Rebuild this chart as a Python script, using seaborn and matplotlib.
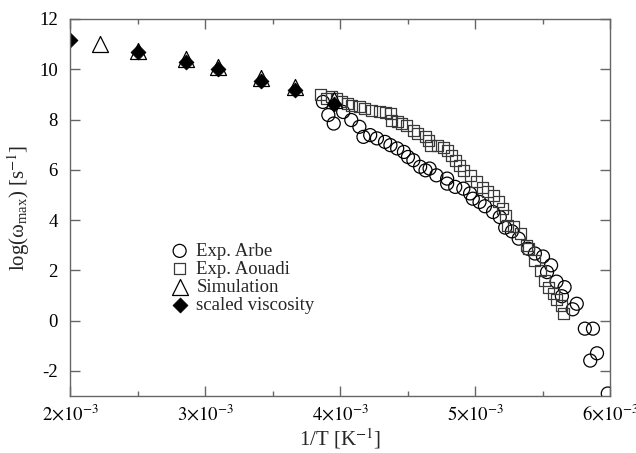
import numpy as np
import pandas as pd
import matplotlib
matplotlib.use("Agg")
import matplotlib.pyplot as plt
import seaborn as sns
from matplotlib.ticker import FixedLocator, MultipleLocator, FuncFormatter

# 1/T values in units of 1e-3 K^-1, log(omega_max) in log10(s^-1)
arbe_invT = [3.87, 3.91, 3.95, 4.02, 4.08, 4.14, 4.17, 4.22, 4.27, 4.33, 4.37, 4.42,
             4.47, 4.50, 4.54, 4.59, 4.63, 4.66, 4.71, 4.79, 4.79, 4.85, 4.91, 4.96,
             4.98, 5.03, 5.07, 5.13, 5.18, 5.22, 5.27, 5.32, 5.39, 5.44, 5.50, 5.56,
             5.53, 5.60, 5.66, 5.64, 5.75, 5.72, 5.81, 5.87, 5.85, 5.90, 5.98]
arbe_logw = [8.70, 8.18, 7.84, 8.30, 7.98, 7.71, 7.31, 7.38, 7.25, 7.11, 6.98, 6.85,
             6.71, 6.51, 6.38, 6.12, 5.98, 6.05, 5.78, 5.65, 5.45, 5.32, 5.25, 5.06,
             4.85, 4.72, 4.55, 4.32, 4.12, 3.70, 3.55, 3.26, 2.86, 2.67, 2.55, 2.20,
             1.93, 1.55, 1.33, 0.97, 0.67, 0.45, -0.32, -0.32, -1.59, -1.30, -2.90]

aouadi_invT = [3.85, 3.90, 3.93, 3.97, 4.01, 4.05, 4.08, 4.14, 4.18, 4.23, 4.29, 4.33,
               4.37, 4.38, 4.42, 4.45, 4.49, 4.54, 4.57, 4.63, 4.65, 4.67, 4.72, 4.76,
               4.79, 4.82, 4.85, 4.88, 4.91, 4.96, 5.01, 5.05, 5.09, 5.13, 5.17, 5.20,
               5.22, 5.24, 5.28, 5.33, 5.38, 5.39, 5.44, 5.48, 5.51, 5.54, 5.58, 5.60,
               5.64, 5.65]
aouadi_logw = [9.00, 8.84, 8.90, 8.84, 8.70, 8.64, 8.57, 8.50, 8.44, 8.37, 8.31, 8.26,
               8.22, 7.95, 7.91, 7.84, 7.78, 7.58, 7.45, 7.31, 7.16, 6.98, 6.98, 6.88,
               6.75, 6.58, 6.38, 6.18, 5.98, 5.78, 5.55, 5.30, 5.15, 4.99, 4.75, 4.45,
               4.19, 3.79, 3.75, 3.46, 3.00, 2.86, 2.40, 2.00, 1.60, 1.33, 1.07, 0.85,
               0.60, 0.30]

sim_invT = [2.222, 2.500, 2.857, 3.096, 3.413, 3.663, 3.953]
sim_logw = [11.00, 10.72, 10.40, 10.08, 9.67, 9.30, 8.78]

visc_invT = [2.000, 2.500, 2.857, 3.096, 3.413, 3.663, 3.953]
visc_logw = [11.16, 10.70, 10.30, 10.00, 9.54, 9.17, 8.60]

series_names = ["Exp. Arbe", "Exp. Aouadi", "Simulation", "scaled viscosity"]
x_ticks = [2e-3, 3e-3, 4e-3, 5e-3, 6e-3]
y_ticks = [-2, 0, 2, 4, 6, 8, 10, 12]

sns.set_theme(style="ticks")
plt.rcParams["font.family"] = ["Liberation Serif", "DejaVu Serif"]
plt.rcParams["mathtext.fontset"] = "stix"
plt.rcParams["axes.unicode_minus"] = False

def frame(invT, logw):
    return pd.DataFrame({"invT": np.asarray(invT) * 1e-3, "logw": logw})

fig = plt.figure(figsize=(6.36, 4.53), dpi=100)
ax = fig.add_axes([0.1108, 0.1258, 0.8491, 0.8323])

sns.scatterplot(data=frame(arbe_invT, arbe_logw), x="invT", y="logw", ax=ax,
                marker="o", s=(13 / 1.39) ** 2, facecolor="none",
                edgecolor="black", linewidth=0.9, label=series_names[0])
sns.scatterplot(data=frame(aouadi_invT, aouadi_logw), x="invT", y="logw", ax=ax,
                marker="s", s=(11 / 1.39) ** 2, facecolor="none",
                edgecolor="#3a3a3a", linewidth=0.9, label=series_names[1])
sns.scatterplot(data=frame(sim_invT, sim_logw), x="invT", y="logw", ax=ax,
                marker="^", s=(16 / 1.39) ** 2, facecolor="white",
                edgecolor="black", linewidth=0.9, label=series_names[2])
sns.scatterplot(data=frame(visc_invT, visc_logw), x="invT", y="logw", ax=ax,
                marker="D", s=(10.5 / 1.39) ** 2, facecolor="black",
                edgecolor="black", linewidth=0.6, label=series_names[3])

ax.set_xlim(2e-3, 6e-3)
ax.set_ylim(-3, 12)
ax.xaxis.set_major_locator(FixedLocator(x_ticks))
ax.xaxis.set_minor_locator(MultipleLocator(0.5e-3))
ax.yaxis.set_major_locator(FixedLocator(y_ticks))

def sci(v, pos):
    m = int(round(v * 1e3))
    return r"$%d{\times}10^{-3}$" % m

ax.xaxis.set_major_formatter(FuncFormatter(sci))

spine_col = "#666666"
for sp in ax.spines.values():
    sp.set_color(spine_col)
    sp.set_linewidth(1.0)
    sp.set_visible(True)
ax.tick_params(which="both", direction="in", top=True, right=True,
               color=spine_col, labelsize=13.5, labelcolor="black")
ax.tick_params(which="major", length=7, width=1.0, pad=6)
ax.tick_params(axis="y", which="major", pad=9)
ax.tick_params(which="minor", length=3.5, width=1.0)
ax.tick_params(axis="y", which="minor", left=False, right=False)

ax.set_xlabel(r"1/T [K$^{-1}$]", fontsize=15, labelpad=1)
ax.set_ylabel(r"log($\mathregular{\omega_{max}}$) [s$^{-1}$]", fontsize=15, labelpad=5)

ax.legend(loc="upper left", bbox_to_anchor=(0.25, 0.485), bbox_transform=fig.transFigure,
          frameon=False, fontsize=13.5, handletextpad=0.3, labelspacing=0.05,
          borderpad=0, handlelength=1.2)

fig.savefig("out.png", dpi=100)
